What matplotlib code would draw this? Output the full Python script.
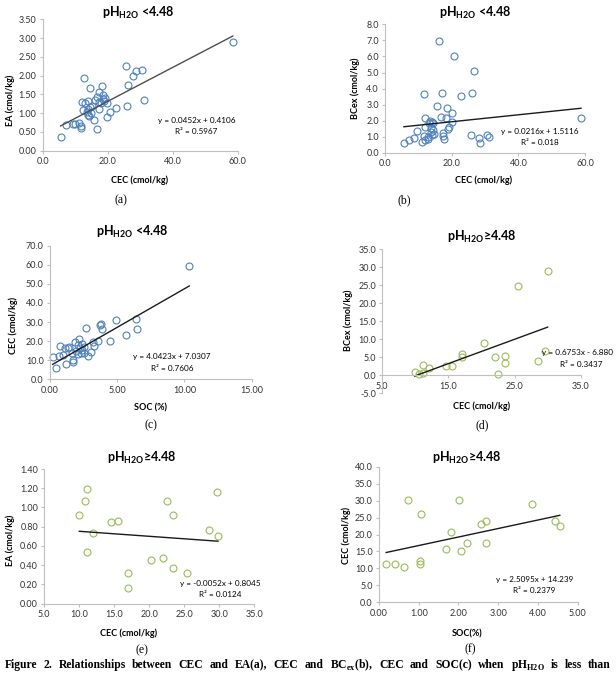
""" Six scatter panels with linear trend lines (CEC, EA, BCex, SOC).
"""
import numpy as np
import matplotlib
matplotlib.use("Agg")
from matplotlib import pyplot as plt
from matplotlib.ticker import FormatStrFormatter, MultipleLocator

plt.rcParams["font.family"] = ["Lato", "DejaVu Sans"]
plt.rcParams["mathtext.fontset"] = "custom"
plt.rcParams["mathtext.bf"] = "Lato:bold"
plt.rcParams["mathtext.rm"] = "Liberation Serif:bold"

# (a) CEC vs EA, pH < 4.48
cec_a = [5.5, 7.2, 9.2, 9.8, 11.3, 11.7, 11.9, 12.0, 12.5, 12.7, 13.1, 13.5, 13.8,
         14.0, 14.0, 14.3, 14.6, 14.6, 14.8, 15.2, 15.8, 16.2, 16.8, 16.8, 17.2,
         17.4, 17.4, 17.8, 18.1, 18.5, 18.7, 18.9, 19.2, 19.7, 19.9, 20.7, 22.6,
         25.6, 25.8, 26.3, 27.9, 28.6, 30.6, 31.2, 58.5]
ea_a = [0.36, 0.68, 0.71, 0.70, 0.73, 0.60, 0.65, 1.31, 1.08, 1.93, 1.26, 1.04,
        1.10, 1.33, 0.95, 0.93, 1.68, 1.17, 1.00, 1.20, 0.82, 1.35, 0.57, 1.42,
        1.30, 1.57, 1.10, 1.28, 1.72, 1.38, 1.48, 1.33, 1.40, 1.26, 0.91, 1.04,
        1.13, 2.26, 1.19, 1.75, 1.99, 2.12, 2.15, 1.35, 2.89]

# (b) CEC vs BCex, pH < 4.48
cec_b = [5.6, 7.2, 8.7, 9.5, 11.0, 11.5, 11.8, 11.9, 11.6, 12.9, 12.9, 11.8, 13.4,
         13.2, 14.0, 14.3, 13.6, 14.2, 13.8, 14.5, 14.0, 15.4, 16.0, 16.9, 16.7,
         17.4, 17.4, 17.6, 18.4, 18.3, 19.2, 18.9, 20.0, 19.9, 20.7, 22.7, 25.7,
         26.0, 26.5, 28.2, 28.5, 30.7, 31.3, 58.8]
bcex_b = [0.60, 0.81, 0.91, 1.39, 0.70, 3.67, 2.16, 1.60, 1.06, 1.02, 0.85, 0.80,
          1.99, 1.85, 1.95, 1.85, 1.55, 1.45, 1.30, 1.20, 1.10, 2.94, 6.94, 3.75,
          2.22, 1.26, 1.08, 0.85, 2.78, 2.16, 1.60, 1.50, 2.47, 1.95, 6.03, 3.54,
          1.12, 3.75, 5.12, 0.91, 0.64, 1.12, 1.02, 2.16]

# (c) SOC vs CEC, pH < 4.48
soc_c = [0.20, 0.42, 0.69, 0.74, 0.99, 1.19, 1.12, 1.36, 1.44, 1.61, 1.69, 1.74,
         1.86, 1.95, 2.05, 2.10, 2.16, 2.20, 2.28, 2.35, 2.40, 2.50, 2.55, 2.68,
         2.85, 3.02, 3.22, 3.30, 3.55, 3.72, 3.77, 3.89, 4.46, 4.88, 5.63, 6.40,
         6.45, 10.36]
cec_c = [11.9, 6.1, 12.4, 17.6, 12.7, 7.9, 16.2, 16.2, 17.1, 13.6, 9.3, 10.1, 19.4,
         15.0, 18.0, 13.5, 20.9, 16.5, 14.0, 18.5, 15.5, 13.8, 17.0, 26.7, 12.4,
         14.5, 19.7, 17.5, 20.0, 28.5, 29.2, 26.2, 20.2, 30.9, 23.2, 31.6, 26.4,
         59.2]

# (d) CEC vs BCex, pH >= 4.48
cec_d = [9.9, 10.6, 11.1, 11.2, 12.0, 14.7, 15.5, 17.0, 17.0, 20.4, 22.0, 22.5,
         23.6, 23.6, 25.5, 28.6, 29.6, 30.0]
bcex_d = [1.0, 0.5, 2.9, 0.7, 2.0, 2.5, 2.5, 5.8, 5.2, 8.9, 5.1, 0.4, 5.5, 3.3,
          24.9, 4.0, 6.7, 29.0]
ticks_d = [5, 15, 25, 35]

# (e) CEC vs EA, pH >= 4.48
cec_e = [10.0, 10.8, 11.05, 11.05, 12.0, 14.5, 15.5, 16.9, 16.9, 20.2, 22.0, 22.5,
         23.4, 23.4, 25.4, 28.5, 29.7, 29.8]
ea_e = [0.92, 1.07, 1.19, 0.54, 0.73, 0.85, 0.86, 0.32, 0.16, 0.45, 0.48, 1.07,
        0.37, 0.92, 0.32, 0.77, 1.16, 0.70]

# (f) SOC vs CEC, pH >= 4.48
soc_f = [0.18, 0.40, 0.63, 0.74, 1.03, 1.03, 1.05, 1.69, 1.80, 2.01, 2.07, 2.22,
         2.57, 2.68, 2.68, 3.86, 4.42, 4.55]
cec_f = [11.3, 11.4, 10.3, 30.2, 12.2, 11.3, 25.9, 15.7, 20.8, 30.1, 15.0, 17.4,
         23.0, 24.0, 17.4, 29.0, 24.0, 22.5]

# trend lines as printed on the chart (slope, intercept)
trend_a = (0.0452, 0.4106)
trend_b = (0.0216, 1.5116)
trend_c = (4.0423, 7.0307)
trend_d = (0.6753, -6.880)
trend_e = (-0.0052, 0.8045)
trend_f = (2.5095, 14.239)

eq_a = "y = 0.0452x + 0.4106\nR² = 0.5967"
eq_b = "y = 0.0216x + 1.5116\nR² = 0.018"
eq_c = "y = 4.0423x + 7.0307\nR² = 0.7606"
eq_d = ["y = 0.6753x - 6.880", "R² = 0.3437"]
eq_e = "y = -0.0052x + 0.8045\nR² = 0.0124"
eq_f = "y = 2.5095x + 14.239\nR² = 0.2379"

title_low = "pH$_{\\mathbf{H2O}}$ <4.48"
title_high = "pH$_{\\mathbf{H2O}}$≥4.48"

caption = ("Figure 2. Relationships between CEC and EA(a), CEC and "
           "BC$_{\\mathrm{ex}}$(b), CEC and SOC(c) when pH$_{\\mathrm{H2O}}$ "
           "is less than")

W, H = 616.0, 675.0
BLUE = "#4f81bd"
GREEN = "#9bbb59"
GRID = "#bfbfbf"
EQ_SIZE = 5.9


def make_axes(fig, left, right, bottom, top):
    """ Axes from pixel edges of the original picture. """
    ax = fig.add_axes([left / W, 1 - bottom / H, (right - left) / W,
                       (bottom - top) / H])
    for side in ("top", "right"):
        ax.spines[side].set_visible(False)
    for side in ("left", "bottom"):
        ax.spines[side].set_color(GRID)
        ax.spines[side].set_linewidth(0.8)
    ax.tick_params(direction="out", length=2.5, width=0.8, color=GRID,
                   labelsize=6.5, labelcolor="#333333", pad=2)
    return ax


def scatter_trend(ax, x, y, color, trend, line_color="#1a1a1a"):
    ax.plot(x, y, "o", mfc="none", mec=color, ms=5, mew=0.8, clip_on=False)
    xs = np.array([min(x), max(x)])
    ax.plot(xs, trend[0] * xs + trend[1], color=line_color, lw=1.0)


def equation(ax, x, y, text):
    ax.text(x, y, text, ha="center", va="center", fontsize=EQ_SIZE,
            multialignment="center", linespacing=1.7)


def label(x, y, text, **kw):
    fig.text(x / W, 1 - y / H, text, ha="center", va="baseline"
             if kw.pop("baseline", False) else "center", **kw)


fig = plt.figure(figsize=(6.16, 6.75), dpi=100)

# (a)
ax = make_axes(fig, 42.7, 237.7, 150.7, 19.3)
scatter_trend(ax, cec_a, ea_a, BLUE, trend_a, line_color="#4d4d4d")
ax.set_xlim(0, 60)
ax.set_ylim(0, 3.5)
ax.xaxis.set_major_locator(MultipleLocator(20))
ax.yaxis.set_major_locator(MultipleLocator(0.5))
ax.xaxis.set_major_formatter(FormatStrFormatter("%.1f"))
ax.yaxis.set_major_formatter(FormatStrFormatter("%.2f"))
equation(ax, 47.3, 0.66, eq_a)
label(138.3, 13, title_low, fontsize=9, fontweight="bold")
label(139.3, 180, "CEC (cmol/kg)", fontsize=6.5, fontweight="bold")
label(10, 100, "EA (cmol/kg)", fontsize=6.5, fontweight="bold", rotation=90)
label(120.7, 200, "(a)", fontsize=8.5, family="Liberation Serif")

# (b)
ax = make_axes(fig, 385.3, 585, 153, 24.3)
scatter_trend(ax, cec_b, bcex_b, BLUE, trend_b)
ax.set_xlim(0, 60)
ax.set_ylim(0, 8)
ax.xaxis.set_major_locator(MultipleLocator(20))
ax.yaxis.set_major_locator(MultipleLocator(1))
ax.xaxis.set_major_formatter(FormatStrFormatter("%.1f"))
ax.yaxis.set_major_formatter(FormatStrFormatter("%.1f"))
equation(ax, 46.5, 0.98, eq_b)
label(475.7, 13, title_low, fontsize=9, fontweight="bold")
label(483.3, 180.7, "CEC (cmol/kg)", fontsize=6.5, fontweight="bold")
label(355, 88, "BCex (cmol/kg)", fontsize=6.5, fontweight="bold", rotation=90)
label(404.3, 200, "(b)", fontsize=8.5, family="Liberation Serif")

# (c)
ax = make_axes(fig, 50, 251.7, 379.3, 245.7)
scatter_trend(ax, soc_c, cec_c, BLUE, trend_c)
ax.set_xlim(0, 15)
ax.set_ylim(0, 70)
ax.xaxis.set_major_locator(MultipleLocator(5))
ax.yaxis.set_major_locator(MultipleLocator(10))
ax.xaxis.set_major_formatter(FormatStrFormatter("%.2f"))
ax.yaxis.set_major_formatter(FormatStrFormatter("%.1f"))
equation(ax, 9.08, 8.8, eq_c)
label(132.7, 232, title_low, fontsize=9, fontweight="bold")
label(150.7, 408.3, "SOC (%)", fontsize=6.5, fontweight="bold")
label(13.3, 325, "CEC (cmol/kg)", fontsize=6.5, fontweight="bold", rotation=90)
label(150.7, 425.3, "(c)", fontsize=8.5, family="Liberation Serif")

# (d)
ax = make_axes(fig, 382.3, 580.7, 393.3, 249.3)
scatter_trend(ax, cec_d, bcex_d, GREEN, trend_d)
ax.set_xlim(5, 35)
ax.set_ylim(-5, 35)
ax.spines["bottom"].set_position(("data", 0))
ax.set_xticks(ticks_d)
ax.yaxis.set_major_locator(MultipleLocator(5))
ax.xaxis.set_major_formatter(FormatStrFormatter("%.1f"))
ax.yaxis.set_major_formatter(FormatStrFormatter("%.1f"))
ax.text(29.2, 6.4, eq_d[0], ha="left", va="center", fontsize=EQ_SIZE,
        clip_on=False)
ax.text(31.9, 3.0, eq_d[1], ha="left", va="center", fontsize=EQ_SIZE,
        clip_on=False)
label(481.7, 236.7, title_high, fontsize=9, fontweight="bold")
label(481.7, 406.7, "CEC (cmol/kg)", fontsize=6.5, fontweight="bold")
label(348, 320, "BCex (cmol/kg)", fontsize=6.5, fontweight="bold", rotation=90)
label(481.7, 425, "(d)", fontsize=8.5, family="Liberation Serif")

# (e)
ax = make_axes(fig, 44.3, 254.3, 603.7, 469)
scatter_trend(ax, cec_e, ea_e, GREEN, trend_e)
ax.set_xlim(5, 35)
ax.set_ylim(0, 1.4)
ax.xaxis.set_major_locator(MultipleLocator(5))
ax.yaxis.set_major_locator(MultipleLocator(0.2))
ax.xaxis.set_major_formatter(FormatStrFormatter("%.1f"))
ax.yaxis.set_major_formatter(FormatStrFormatter("%.2f"))
equation(ax, 30.1, 0.156, eq_e)
label(141.7, 458, title_high, fontsize=9, fontweight="bold")
label(128.3, 633.3, "CEC (cmol/kg)", fontsize=6.5, fontweight="bold")
label(10, 540, "EA (cmol/kg)", fontsize=6.5, fontweight="bold", rotation=90)
label(141.7, 650.5, "(e)", fontsize=8.5, family="Liberation Serif")

# (f)
ax = make_axes(fig, 379, 577.7, 602.3, 466.7)
scatter_trend(ax, soc_f, cec_f, GREEN, trend_f)
ax.set_xlim(0, 5)
ax.set_ylim(0, 40)
ax.xaxis.set_major_locator(MultipleLocator(1))
ax.yaxis.set_major_locator(MultipleLocator(5))
ax.xaxis.set_major_formatter(FormatStrFormatter("%.2f"))
ax.yaxis.set_major_formatter(FormatStrFormatter("%.1f"))
equation(ax, 3.91, 5.2, eq_f)
label(467, 457.7, title_high, fontsize=9, fontweight="bold")
label(466.7, 634.3, "SOC(%)", fontsize=6.5, fontweight="bold")
label(346.7, 535, "CEC (cmol/kg)", fontsize=6.5, fontweight="bold", rotation=90)
label(470, 649.5, "(f)", fontsize=8.5, family="Liberation Serif")

# figure caption, justified across the page and cut off at the bottom
renderer = fig.canvas.get_renderer()
words = [fig.text(0, 1 - 668 / H, w, ha="left", va="baseline", fontsize=8.4,
                  fontweight="bold", family="Liberation Serif")
         for w in caption.split(" ")]
widths = [t.get_window_extent(renderer).width for t in words]
gap = (611 - 5 - sum(widths)) / (len(words) - 1)
x = 5.0
for t, w in zip(words, widths):
    t.set_x(x / W)
    x += w + gap

fig.savefig("out.png", dpi=100)
